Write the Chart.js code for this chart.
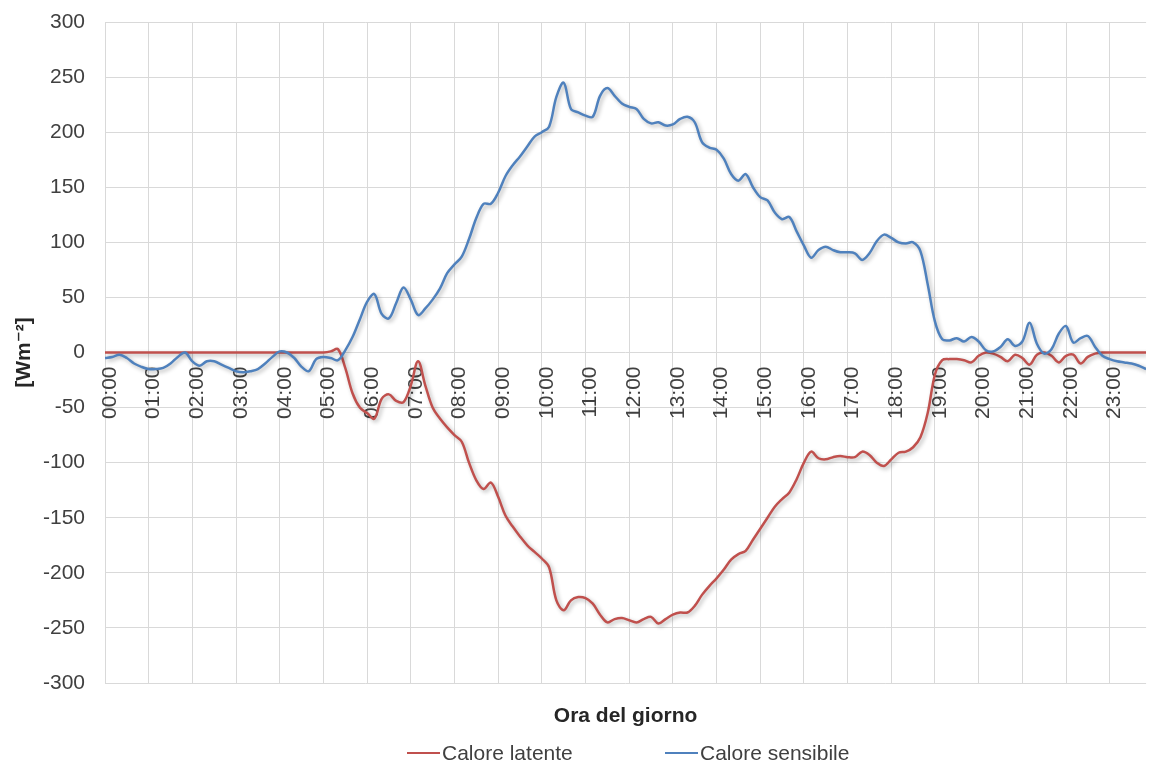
<!DOCTYPE html>
<html>
<head>
<meta charset="utf-8">
<script src="https://cdn.jsdelivr.net/npm/chart.js@4.4.0/dist/chart.umd.min.js"></script>
<style>
  html, body { margin: 0; padding: 0; background: #fff; }
  #wrap { position: relative; width: 1149px; height: 767px; }
  #legend {
    position: absolute; left: 407px; top: 741px;
    display: flex; align-items: center;
    font: 21px 'Liberation Sans', Arial, sans-serif; color: #404040;
  }
  .item { display: flex; align-items: center; }
  .item .line { width: 33px; height: 2px; margin-right: 2px; }
</style>
</head>
<body>
<div id="wrap">
  <canvas id="chart" width="1149" height="767"></canvas>
  <div id="legend"></div>
</div>
<script>
// etichette orarie sull'asse x
const oreLabels = ['00:00','01:00','02:00','03:00','04:00','05:00','06:00','07:00',
  '08:00','09:00','10:00','11:00','12:00','13:00','14:00','15:00',
  '16:00','17:00','18:00','19:00','20:00','21:00','22:00','23:00'];

// valori ogni 10 minuti, una riga per ora [W m-2]
const caloreSensibile = [
  -5, -4, -2, -5, -10, -13,
  -15, -15, -14, -10, -4, 0,
  -8, -12, -8, -8, -11, -14,
  -17, -18, -17, -15, -10, -4,
  1, 0, -5, -13, -17, -6,
  -4, -5, -7, 2, 14, 30,
  46, 53, 35, 31, 45, 59,
  48, 34, 40, 48, 58, 72,
  80, 87, 103, 122, 135, 135,
  145, 160, 170, 178, 187, 196,
  200, 205, 232, 245, 221, 218,
  215, 214, 233, 240, 233, 226,
  223, 221, 212, 208, 209, 206,
  207, 212, 214, 209, 191, 186,
  184, 176, 162, 156, 162, 150,
  141, 138, 127, 121, 123, 110,
  97, 86, 93, 96, 93, 91,
  91, 90, 84, 90, 101, 107,
  104, 100, 99, 100, 92, 62,
  28, 12, 11, 13, 10, 14,
  10, 2, 1, 5, 12, 6,
  10, 27, 8, -1, 3, 17,
  24, 9, 13, 15, 5, -3,
  -6, -8, -9, -10, -12, -15
];

const caloreLatente = [
  0, 0, 0, 0, 0, 0,
  0, 0, 0, 0, 0, 0,
  0, 0, 0, 0, 0, 0,
  0, 0, 0, 0, 0, 0,
  0, 0, 0, 0, 0, 0,
  0, 1, 3, -14, -37, -50,
  -55, -60, -42, -38, -44, -45,
  -30, -8, -30, -50, -60, -68,
  -75, -81, -100, -116, -124, -118,
  -131, -148, -158, -167, -175, -181,
  -187, -195, -225, -234, -225, -222,
  -223, -228, -238, -245, -242, -241,
  -243, -245, -242, -240, -246, -242,
  -238, -236, -236, -230, -220, -212,
  -205, -197, -188, -183, -180, -170,
  -160, -150, -140, -133, -127, -115,
  -100, -90, -96, -97, -95, -94,
  -95, -95, -90, -93, -100, -103,
  -97, -91, -90, -86, -77, -55,
  -20, -7, -6, -6, -7, -9,
  -3, 0, -1, -4, -8, -2,
  -5, -11, -2, 0, -3, -9,
  -3, -2, -10, -4, -1, 0,
  0, 0, 0, 0, 0, 0
];

// minuti dall'inizio del giorno (passo 10 min)
const minuti = caloreSensibile.map((v, i) => i * 10);

const testo = '#404040';
const griglia = '#d9d9d9';
const fontBase = { family: "'Liberation Sans', Arial, sans-serif", size: 21 };

const ombra = {
  id: 'ombra',
  beforeDatasetDraw(chart) {
    const c = chart.ctx;
    c.save();
    c.shadowColor = 'rgba(0,0,0,0.3)';
    c.shadowBlur = 4;
    c.shadowOffsetX = 2;
    c.shadowOffsetY = 2;
  },
  afterDatasetDraw(chart) {
    chart.ctx.restore();
  }
};

const ctx = document.getElementById('chart').getContext('2d');
const chart = new Chart(ctx, {
  type: 'line',
  data: {
    datasets: [{
      label: 'Calore latente',
      data: minuti.map((m, i) => ({ x: m, y: caloreLatente[i] })),
      borderColor: '#c0504d',
      borderWidth: 2.5,
      tension: 0.35,
      pointRadius: 0,
      order: 1
    }, {
      label: 'Calore sensibile',
      data: minuti.map((m, i) => ({ x: m, y: caloreSensibile[i] })),
      borderColor: '#4f81bd',
      borderWidth: 2.5,
      tension: 0.35,
      pointRadius: 0,
      order: 0
    }]
  },
  options: {
    responsive: false,
    animation: false,
    layout: { padding: { top: 22, right: 0, bottom: 32, left: 0 } },
    plugins: {
      legend: { display: false },
      tooltip: { enabled: false }
    },
    scales: {
      x: {
        type: 'linear',
        position: { y: 0 },
        min: 0,
        max: 1430,
        grid: { color: griglia, drawTicks: false },
        border: { display: false },
        ticks: {
          stepSize: 60,
          includeBounds: false,
          autoSkip: false,
          minRotation: 90,
          maxRotation: 90,
          padding: 14,
          labelOffset: 5,
          color: testo,
          font: fontBase,
          callback: v => oreLabels[v / 60]
        }
      },
      x2: {
        type: 'linear',
        position: 'bottom',
        min: 0,
        max: 1430,
        grid: { display: false },
        border: { display: false },
        ticks: { display: false },
        title: {
          display: true,
          text: 'Ora del giorno',
          color: '#262626',
          font: { family: fontBase.family, size: 21, weight: 'bold' },
          padding: { top: 0, bottom: 6 }
        },
        afterFit: s => { s.height = 52; }
      },
      y: {
        min: -300,
        max: 300,
        grid: { color: griglia, drawTicks: true, tickLength: 20, tickColor: 'rgba(0,0,0,0)' },
        border: { display: false },
        ticks: { stepSize: 50, padding: 0, color: testo, font: fontBase },
        title: {
          display: true,
          text: '[Wm⁻²]',
          color: '#262626',
          font: { family: "'Liberation Sans', 'DejaVu Sans', Arial, sans-serif", size: 21, weight: 'bold' },
          padding: { top: 12, bottom: 4 }
        },
        afterFit: s => { s.width = 105; }
      }
    }
  },
  plugins: [ombra]
});

// legenda in HTML sotto il grafico
const legend = document.getElementById('legend');
chart.data.datasets.forEach((ds, i) => {
  const item = document.createElement('div');
  item.className = 'item';
  if (i === 0) item.style.width = '258px';
  item.innerHTML = '<span class="line" style="background:' + ds.borderColor + '"></span><span>' + ds.label + '</span>';
  legend.appendChild(item);
});
</script>
</body>
</html>
